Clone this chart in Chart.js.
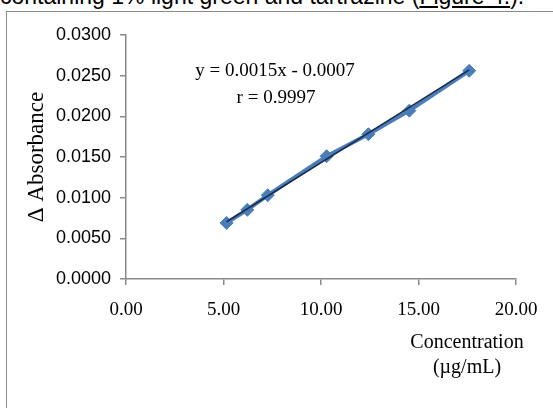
<!DOCTYPE html>
<html>
<head>
<meta charset="utf-8">
<script src="https://cdn.jsdelivr.net/npm/chart.js@4"></script>
<style>
  html, body { margin: 0; padding: 0; background: #fff; overflow: hidden; }
  #wrap { position: relative; width: 553px; height: 408px; }
  #caption {
    position: absolute; left: 0; top: -17px; white-space: nowrap;
    font: 23px "Liberation Sans", Arial, sans-serif; color: #000;
  }
  #frame {
    position: absolute; left: 6px; top: 11px; width: 600px; height: 500px;
    border: 1.5px solid #8a8a8a;
  }
  #chart { position: absolute; left: 0; top: 0; }
</style>
</head>
<body>
<div id="wrap">
  <div id="caption">containing 1% light green and tartrazine (<u>Figure 4.</u>).</div>
  <div id="frame"></div>
  <canvas id="chart" width="553" height="408"></canvas>
</div>
<script>
// Data
const concentration = [5.16, 6.22, 7.27, 10.29, 12.43, 14.53, 17.60];
const deltaAbsorbance = [0.0069, 0.0085, 0.0103, 0.0151, 0.0178, 0.0207, 0.0256];
const xTicks = [0, 5, 10, 15, 20];
const yTicks = [0, 0.005, 0.010, 0.015, 0.020, 0.025, 0.030];
const slope = 0.0015;
const intercept = -0.0007;
const equationLines = ['y = 0.0015x - 0.0007', 'r = 0.9997'];
const xTitleLines = ['Concentration', '(\u00b5g/mL)'];

const serif = '"Liberation Serif", "Times New Roman", serif';
const sans = '"Liberation Sans", Arial, sans-serif';
const axisColor = '#8a8a8a';

// trend line end points from the printed equation
const xMin = Math.min(...concentration);
const xMax = Math.max(...concentration);
const trend = [xMin, xMax].map(x => ({ x: x, y: slope * x + intercept }));

// Extra text: equation and x axis title
const textPlugin = {
  id: 'texts',
  afterDraw(chart) {
    const ctx = chart.ctx;
    ctx.save();
    ctx.fillStyle = '#000';
    ctx.textAlign = 'center';
    ctx.textBaseline = 'middle';
    ctx.font = '19px ' + serif;
    ctx.fillText(equationLines[0], 275, 71);
    ctx.fillText(equationLines[1], 276, 98);
    ctx.font = '20px ' + serif;
    ctx.fillText(xTitleLines[0], 467, 343);
    ctx.fillText(xTitleLines[1], 467, 368);
    ctx.restore();
  }
};

new Chart(document.getElementById('chart'), {
  type: 'scatter',
  data: {
    datasets: [
      {
        label: 'Linear',
        data: trend,
        showLine: true,
        borderColor: '#1d2b45',
        borderWidth: 1.5,
        pointRadius: 0,
        order: 0
      },
      {
        label: 'Absorbance',
        data: concentration.map((c, i) => ({ x: c, y: deltaAbsorbance[i] })),
        showLine: true,
        borderColor: '#4a7ebb',
        backgroundColor: '#4a7ebb',
        borderWidth: 4,
        pointStyle: 'rectRot',
        pointRadius: 6.5,
        pointBorderWidth: 1,
        pointBorderColor: '#4a7ebb',
        order: 1
      }
    ]
  },
  options: {
    responsive: false,
    animation: false,
    layout: { padding: { left: 0, top: 35, right: 37, bottom: 0 } },
    plugins: {
      legend: { display: false },
      tooltip: { enabled: false }
    },
    scales: {
      x: {
        type: 'linear',
        min: 0,
        max: 20,
        afterBuildTicks: s => { s.ticks = xTicks.map(v => ({ value: v })); },
        afterFit: s => { s.height = 129; },
        border: { color: axisColor, width: 1.5 },
        grid: { drawOnChartArea: false, color: axisColor, tickLength: 6, lineWidth: 1.5 },
        ticks: {
          padding: 14,
          color: '#000',
          font: { family: serif, size: 19 },
          callback: v => Number(v).toFixed(2)
        }
      },
      y: {
        type: 'linear',
        min: 0,
        max: 0.03,
        afterBuildTicks: s => { s.ticks = yTicks.map(v => ({ value: v })); },
        afterFit: s => { s.width = 126; },
        border: { color: axisColor, width: 1.5 },
        grid: { drawOnChartArea: false, color: axisColor, tickLength: 6, lineWidth: 1.5 },
        title: {
          display: true,
          text: '\u0394 Absorbance',
          color: '#000',
          font: { family: serif, size: 23 },
          padding: { top: 23, bottom: 0 }
        },
        ticks: {
          padding: 9,
          color: '#000',
          font: { family: sans, size: 18 },
          callback: v => Number(v).toFixed(4)
        }
      }
    }
  },
  plugins: [textPlugin]
});
</script>
</body>
</html>
